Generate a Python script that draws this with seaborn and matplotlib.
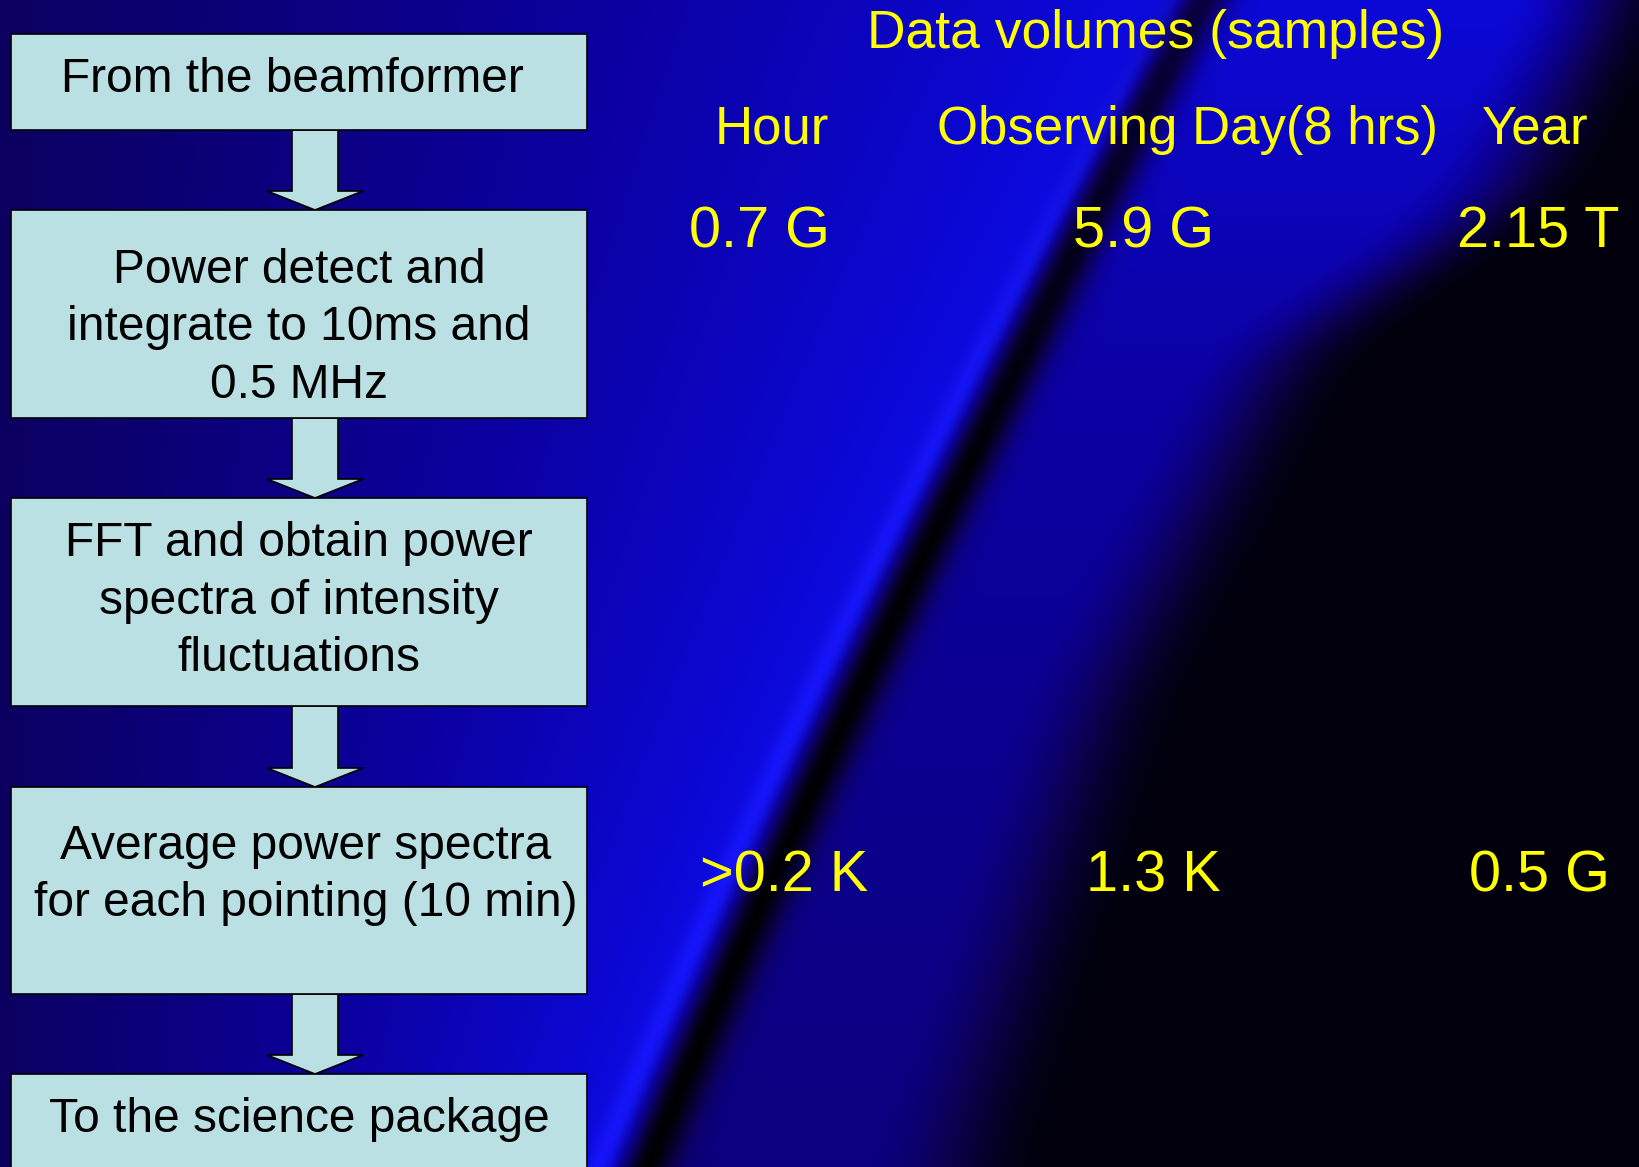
import numpy as np
import matplotlib
matplotlib.use("Agg")
import matplotlib.pyplot as plt
from matplotlib.patches import Rectangle, Polygon
import seaborn as sns

# --- slide content ---
steps = [
    "From the beamformer",
    "Power detect and\nintegrate to 10ms and\n0.5 MHz",
    "FFT and obtain power\nspectra of intensity\nfluctuations",
    "Average power spectra\nfor each pointing (10 min)",
    "To the science package",
]
title = "Data volumes (samples)"
periods = ["Hour", "Observing Day(8 hrs)", "Year"]
volumes_raw = ["0.7 G", "5.9 G", "2.15 T"]
volumes_avg = [">0.2 K", "1.3 K", "0.5 G"]

# --- layout (pixels, origin top-left) ---
W, H = 1640, 1167
box_left, box_right = 11, 587
box_tops = [34, 210, 498, 787, 1074]
box_bottoms = [130, 418, 706, 994, 1200]
text_cy = [79, 328, 601, 875, 1119]
text_cx = [292, 299, 299, 306, 299]
line_gap = 57.5
period_x = [715, 937, 1482]
raw_x = [689, 1073, 1457]
avg_x = [700, 1086, 1469]

BOX_FILL = "#bae0e3"
YELLOW = "#ffff00"

sns.set_style("white")
plt.rcParams["font.family"] = ["Liberation Sans", "DejaVu Sans"]


def smooth_profile(knots_y, knots_v, width=161):
    # piecewise profile along y, softened so there are no visible kinks
    y = np.arange(H)
    v = np.interp(y, knots_y, knots_v)
    pad = width // 2
    vp = np.pad(v, pad, mode="edge")
    k = np.exp(-0.5 * (np.linspace(-2.5, 2.5, width)) ** 2)
    return np.convolve(vp, k / k.sum(), mode="valid")[:, None]


def make_background():
    xx = np.arange(W, dtype=float)[None, :]
    yy = np.arange(H, dtype=float)[:, None]
    # bright diagonal streak with a dark band on its right
    xp = 1170 - 0.561 * yy + 6.0e-5 * yy ** 2
    d = xx - xp
    off = smooth_profile([0, 400, 1167], [32, 45, 50])
    t = np.clip(xx / xp, 0, 1)
    b_left = 0.38 + 0.50 * t ** 1.1
    # right side fades to black towards the lower right
    xf = smooth_profile([0, 200, 350, 700, 1167], [1600, 1500, 1280, 1100, 950])
    fade = np.clip((xf - xx) / 180 + 0.5, 0, 1)
    fade = fade * fade * (3 - 2 * fade)
    top_b = smooth_profile([0, 300, 600, 1167], [0.80, 0.62, 0.54, 0.44])
    b_right = 0.05 + fade * top_b
    w = 1 / (1 + np.exp(-(d - off) / 10))
    blue = (1 - w) * b_left + w * b_right
    dark = np.exp(-((d - off) / 28) ** 2)
    strength = smooth_profile([0, 300, 500], [0.72, 0.9, 0.98])
    blue = blue * (1 - strength * dark)
    peak = np.exp(-(d / 13) ** 2) * smooth_profile([0, 300, 600], [0.3, 0.8, 1.0])
    blue = blue + (1 - blue) * 0.85 * peak
    red = 0.045 * np.clip(blue / 0.35, 0, 1) + 0.04 * peak
    green = 0.04 * np.clip((blue - 0.6) / 0.3, 0, 1) + 0.04 * peak
    return np.clip(np.dstack([red, green, blue]), 0, 1)


fig = plt.figure(figsize=(16.4, 11.67), dpi=100)
ax = fig.add_axes([0, 0, 1, 1])
ax.imshow(make_background(), extent=(0, W, H, 0), aspect="auto",
          interpolation="bilinear", zorder=0)

# flowchart boxes
for i, label in enumerate(steps):
    ax.add_patch(Rectangle((box_left, box_tops[i]), box_right - box_left,
                           box_bottoms[i] - box_tops[i], facecolor=BOX_FILL,
                           edgecolor="black", linewidth=1.2, zorder=3))
    lines = label.split("\n")
    n = len(lines)
    for j, line in enumerate(lines):
        ax.text(text_cx[i], text_cy[i] + (j - (n - 1) / 2) * line_gap, line,
                ha="center", va="center", fontsize=34.5, color="black", zorder=4)

# block arrows between boxes
for i in range(len(steps) - 1):
    top, tip = box_bottoms[i], box_tops[i + 1]
    base = tip - 19
    pts = [(292, top), (338, top), (338, base), (363, base), (315, tip),
           (267, base), (292, base)]
    ax.add_patch(Polygon(pts, closed=True, facecolor=BOX_FILL,
                         edgecolor="black", linewidth=1.2, zorder=2))

# data volume table
ax.text(867, 48, title, ha="left", va="baseline", fontsize=38.5, color=YELLOW)
for i in range(3):
    ax.text(period_x[i], 144, periods[i], ha="left", va="baseline",
            fontsize=38, color=YELLOW)
    ax.text(raw_x[i], 248, volumes_raw[i], ha="left", va="baseline",
            fontsize=41.5, color=YELLOW)
    ax.text(avg_x[i], 892, volumes_avg[i], ha="left", va="baseline",
            fontsize=41.5, color=YELLOW)

ax.set_xlim(0, W)
ax.set_ylim(H, 0)
ax.axis("off")
fig.savefig("out.png", dpi=100)
